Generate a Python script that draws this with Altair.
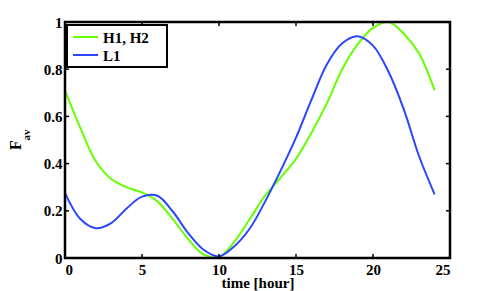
import altair as alt
import pandas as pd

hours = list(range(0, 25))
h_values = [0.71, 0.55, 0.41, 0.335, 0.30, 0.278, 0.24, 0.165, 0.08, 0.015, 0.004,
            0.07, 0.165, 0.265, 0.34, 0.42, 0.53, 0.655, 0.80, 0.905, 0.975, 1.0,
            0.95, 0.865, 0.71]
l_values = [0.275, 0.165, 0.126, 0.148, 0.21, 0.26, 0.264, 0.197, 0.105, 0.035, 0.007,
            0.05, 0.125, 0.24, 0.37, 0.51, 0.67, 0.82, 0.91, 0.94, 0.90, 0.79,
            0.63, 0.43, 0.27]
series_names = ["H1, H2", "L1"]
series_colors = ["#66ff00", "#2b46ff"]
x_ticks = [0, 5, 10, 15, 20, 25]
y_ticks = [0, 0.2, 0.4, 0.6, 0.8, 1]

rows = []
for name, vals in zip(series_names, [h_values, l_values]):
    for h, v in zip(hours, vals):
        rows.append({"time": h, "F": v, "series": name})
df = pd.DataFrame(rows)
xt = pd.DataFrame({"t": x_ticks})
yt = pd.DataFrame({"t": y_ticks})
one = pd.DataFrame({"k": [0]})

FONT = "Liberation Serif"
W, H = 385, 236
xs = alt.Scale(domain=[0, 25], nice=False)
ys = alt.Scale(domain=[0, 1], nice=False)

lines = alt.Chart(df).mark_line(strokeWidth=2, interpolate="catmull-rom").encode(
    x=alt.X("time:Q", scale=xs,
            axis=alt.Axis(values=x_ticks, title="time [hour]", ticks=False, domain=False,
                          grid=False, labelPadding=4, labelFont=FONT, labelFontSize=15,
                          labelFontWeight="bold", labelColor="black",
                          titleFont=FONT, titleFontSize=15, titleFontWeight="bold",
                          titleColor="black", titleY=29, titleBaseline="alphabetic")),
    y=alt.Y("F:Q", scale=ys,
            axis=alt.Axis(values=y_ticks, title=None, ticks=False, domain=False, grid=False,
                          labelPadding=3, labelFont=FONT, labelFontSize=15,
                          labelFontWeight="bold", labelColor="black",
                          labelExpr="datum.value == 0 ? '0' : datum.value == 1 ? '1' : format(datum.value, '.1f')")),
    color=alt.Color("series:N",
                    scale=alt.Scale(domain=series_names, range=series_colors),
                    legend=None),
    detail="series:N",
)

# plot frame
frame = alt.Chart(one).mark_rect(fill="white", fillOpacity=0, stroke="black",
                                 strokeWidth=2.5).encode(
    x=alt.value(0), x2=alt.value(W), y=alt.value(0), y2=alt.value(H))

tick_b = alt.Chart(xt).mark_rule(color="black", strokeWidth=1.5).encode(
    x=alt.X("t:Q", scale=xs), y=alt.value(H), y2=alt.value(H - 4))
tick_t = alt.Chart(xt).mark_rule(color="black", strokeWidth=1.5).encode(
    x=alt.X("t:Q", scale=xs), y=alt.value(0), y2=alt.value(4))
tick_l = alt.Chart(yt).mark_rule(color="black", strokeWidth=1.5).encode(
    y=alt.Y("t:Q", scale=ys), x=alt.value(0), x2=alt.value(4))
tick_r = alt.Chart(yt).mark_rule(color="black", strokeWidth=1.5).encode(
    y=alt.Y("t:Q", scale=ys), x=alt.value(W), x2=alt.value(W - 4))

# legend
leg_box = alt.Chart(one).mark_rect(fill="white", stroke="black", strokeWidth=2).encode(
    x=alt.value(2), x2=alt.value(102), y=alt.value(3), y2=alt.value(45))
leg_layers = [leg_box]
for i, (name, col) in enumerate(zip(series_names, series_colors)):
    yy = 15 + 18 * i
    leg_layers.append(alt.Chart(one).mark_rule(color=col, strokeWidth=2).encode(
        x=alt.value(8), x2=alt.value(33), y=alt.value(yy)))
    leg_layers.append(alt.Chart(one).mark_text(
        font=FONT, fontSize=15, fontWeight="bold", align="left", baseline="middle",
        color="black").encode(x=alt.value(38), y=alt.value(yy + 1), text=alt.value(name)))

f_text = alt.Chart(one).mark_text(font=FONT, fontSize=16, fontWeight="bold", angle=270,
                                  align="center", baseline="middle", color="black").encode(
    x=alt.value(-49), y=alt.value(123), text=alt.value("F"))
av_text = alt.Chart(one).mark_text(font=FONT, fontSize=11, fontWeight="bold", angle=270,
                                   align="center", baseline="middle", color="black").encode(
    x=alt.value(-38), y=alt.value(113), text=alt.value("av"))

chart = alt.layer(lines, tick_b, tick_t, tick_l, tick_r, *leg_layers,
                  f_text, av_text, frame).properties(
    width=W, height=H, autosize="none",
    padding={"left": 57, "top": 14, "right": 22, "bottom": 34},
).configure_view(strokeWidth=0)

chart.save("out.html", embed_options={"renderer": "svg", "actions": False})
